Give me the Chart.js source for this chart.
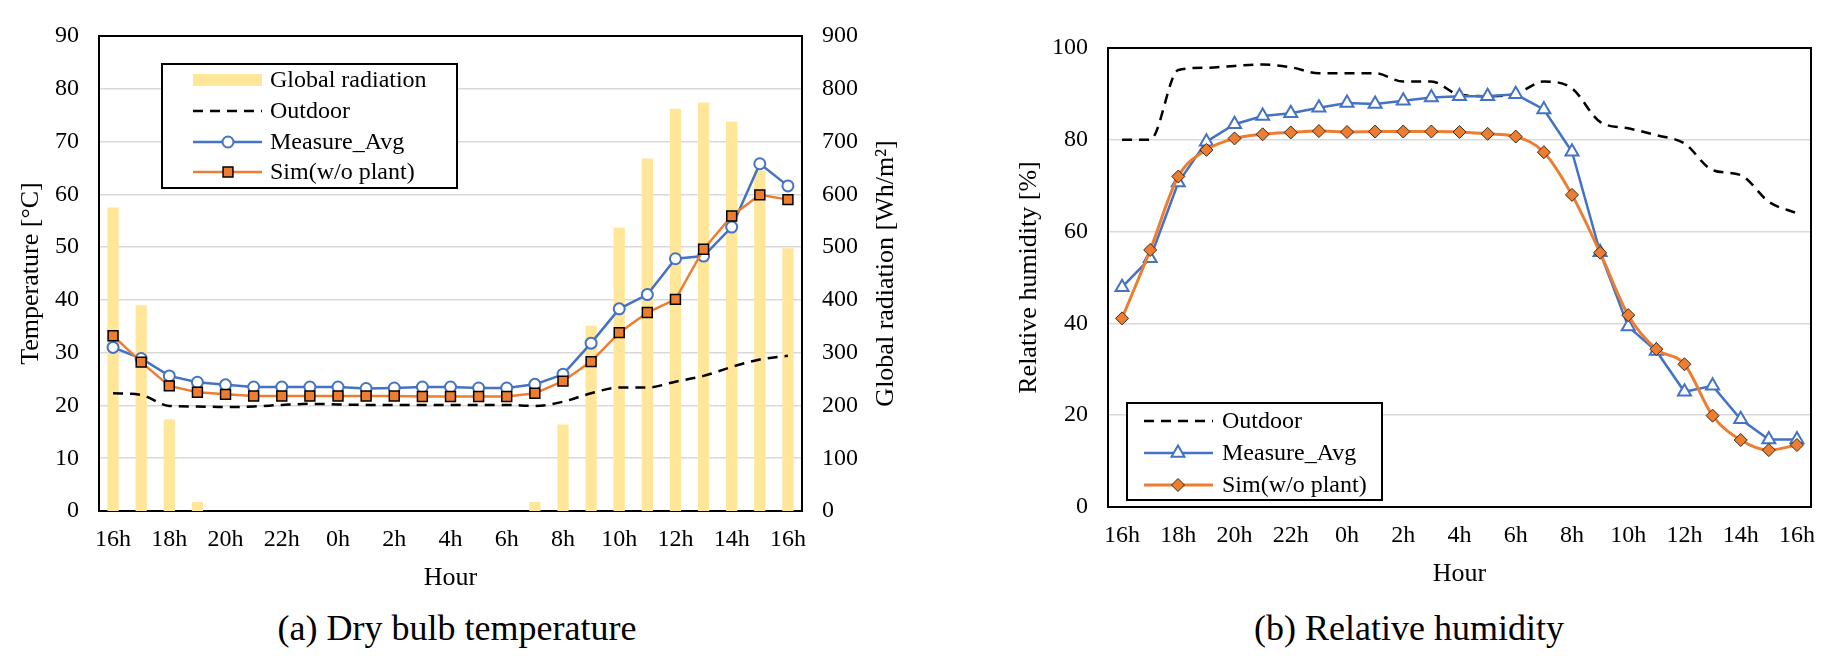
<!DOCTYPE html>
<html>
<head>
<meta charset="utf-8">
<script src="https://cdn.jsdelivr.net/npm/chart.js@4"></script>
<style>
  html, body { margin: 0; padding: 0; background: #fff; }
  body { width: 1845px; height: 660px; position: relative; overflow: hidden; font-family: 'Liberation Serif', 'Times New Roman', serif; }
  canvas { position: absolute; top: 0; }
  #cA { left: 0; }
  #cB { left: 930px; }
  .sub { position: absolute; top: 604px; font-size: 36px; line-height: 48px; color: #000; transform: translateX(-50%); white-space: nowrap; }
</style>
</head>
<body>
<canvas id="cA" width="930" height="600"></canvas>
<canvas id="cB" width="915" height="600"></canvas>
<div class="sub" style="left:457px">(a) Dry bulb temperature</div>
<div class="sub" style="left:1409px">(b) Relative humidity</div>
<script>
// ---------- data ----------
const hours = ['16h','17h','18h','19h','20h','21h','22h','23h','0h','1h','2h','3h','4h','5h','6h','7h','8h','9h','10h','11h','12h','13h','14h','15h','16h'];

const radiation = [575, 390, 174, 17, 0, 0, 0, 0, 0, 0, 0, 0, 0, 0, 0, 17, 164, 351, 537, 668, 762, 774, 738, 645, 498];

const tempOutdoor = [22.3, 22.0, 19.9, 19.8, 19.7, 19.8, 20.1, 20.3, 20.2, 20.1, 20.1, 20.1, 20.1, 20.1, 20.1, 19.9, 20.7, 22.3, 23.4, 23.4, 24.5, 25.6, 27.3, 28.7, 29.4];
const tempMeasure = [31.0, 28.9, 25.6, 24.4, 23.9, 23.5, 23.5, 23.5, 23.5, 23.2, 23.3, 23.5, 23.5, 23.3, 23.3, 24.0, 25.9, 31.8, 38.3, 41.0, 47.8, 48.3, 53.8, 65.8, 61.6];
const tempSim     = [33.2, 28.2, 23.7, 22.5, 22.1, 21.8, 21.8, 21.8, 21.8, 21.8, 21.8, 21.7, 21.7, 21.7, 21.7, 22.3, 24.6, 28.3, 33.8, 37.6, 40.1, 49.6, 55.9, 59.9, 59.0];

const rhOutdoor = [80.0, 80.0, 95.2, 95.7, 96.1, 96.4, 95.8, 94.5, 94.5, 94.5, 92.7, 92.7, 89.8, 89.5, 90.0, 92.7, 91.2, 83.9, 82.5, 81.0, 79.2, 73.4, 72.3, 66.5, 64.0];
const rhMeasure = [47.9, 54.2, 70.7, 79.6, 83.4, 85.2, 85.8, 87.0, 88.0, 87.8, 88.5, 89.2, 89.5, 89.5, 89.9, 86.6, 77.4, 55.5, 39.3, 34.0, 25.1, 26.4, 19.1, 14.7, 14.7];
const rhSim     = [41.1, 56.0, 72.0, 77.8, 80.3, 81.2, 81.6, 81.9, 81.7, 81.8, 81.8, 81.8, 81.7, 81.3, 80.7, 77.3, 68.0, 55.4, 41.8, 34.4, 31.1, 19.9, 14.6, 12.4, 13.5];

const tempTicks = { min: 0, max: 90, step: 10 };
const radTicks  = { min: 0, max: 900, step: 100 };
const rhTicks   = { min: 0, max: 100, step: 20 };

// ---------- styling ----------
const FONT = "'Liberation Serif', 'Times New Roman', serif";
Chart.defaults.font.family = FONT;
Chart.defaults.color = '#000';
Chart.defaults.animation = false;

const BLUE = '#4472C4', ORANGE = '#ED7D31', YELLOW = '#FFE699', GRID = '#D9D9D9';

function drawMarker(ctx, style, x, y, r, fill, stroke, lw) {
  ctx.save();
  ctx.beginPath();
  if (style === 'circle') {
    ctx.arc(x, y, r, 0, Math.PI * 2);
  } else if (style === 'rect') {
    const s = r * Math.SQRT1_2;
    ctx.rect(x - s, y - s, 2 * s, 2 * s);
  } else if (style === 'triangle') {
    for (let k = 0; k < 3; k++) {
      const a = -Math.PI / 2 + k * 2 * Math.PI / 3;
      const px = x + Math.cos(a) * r, py = y + Math.sin(a) * r;
      if (k === 0) ctx.moveTo(px, py); else ctx.lineTo(px, py);
    }
    ctx.closePath();
  } else if (style === 'rectRot') {
    ctx.moveTo(x, y - r); ctx.lineTo(x + r, y); ctx.lineTo(x, y + r); ctx.lineTo(x - r, y); ctx.closePath();
  }
  ctx.fillStyle = fill; ctx.fill();
  ctx.lineWidth = lw; ctx.strokeStyle = stroke; ctx.stroke();
  ctx.restore();
}

const frameLegendPlugin = {
  id: 'frameLegend',
  beforeDatasetsDraw(chart, args, opts) {
    const a = chart.chartArea, ctx = chart.ctx;
    ctx.save();
    ctx.strokeStyle = '#000';
    ctx.lineWidth = 2;
    ctx.strokeRect(a.left, a.top, a.right - a.left, a.bottom - a.top);
    ctx.restore();
  },
  afterDatasetsDraw(chart, args, opts) {
    const ctx = chart.ctx;
    const L = opts.legend;
    if (L) {
      ctx.save();
      ctx.fillStyle = '#fff';
      ctx.fillRect(L.x, L.y, L.w, L.h);
      ctx.strokeStyle = '#000'; ctx.lineWidth = 2;
      ctx.strokeRect(L.x, L.y, L.w, L.h);
      L.items.forEach((it, i) => {
        const ds = chart.data.datasets[it.ds];
        const y = L.rowY[i];
        if (ds.type === 'bar' || (!ds.type && chart.config.type === 'bar')) {
          ctx.fillStyle = ds.backgroundColor;
          ctx.fillRect(L.sx0, y - 6, L.sx1 - L.sx0, 12);
        } else {
          ctx.save();
          ctx.strokeStyle = ds.borderColor;
          ctx.lineWidth = ds.borderWidth;
          ctx.setLineDash(ds.borderDash || []);
          ctx.beginPath(); ctx.moveTo(L.sx0, y); ctx.lineTo(L.sx1, y); ctx.stroke();
          ctx.restore();
          if (ds.pointRadius > 0) {
            drawMarker(ctx, ds.pointStyle, L.mx, y, ds.pointRadius, ds.pointBackgroundColor, ds.pointBorderColor, ds.pointBorderWidth);
          }
        }
        ctx.fillStyle = '#000';
        ctx.font = '24px ' + FONT;
        ctx.textAlign = 'left';
        ctx.textBaseline = 'middle';
        ctx.fillText(ds.label, L.tx, y + 1);
      });
      ctx.restore();
    }
    if (opts.rightTitle) {
      const a = chart.chartArea;
      ctx.save();
      ctx.translate(opts.rightTitle.x, (a.top + a.bottom) / 2);
      ctx.rotate(-Math.PI / 2);
      ctx.font = '26px ' + FONT;
      ctx.fillStyle = '#000';
      ctx.textAlign = 'center';
      ctx.textBaseline = 'middle';
      ctx.fillText(opts.rightTitle.text, 0, 0);
      ctx.restore();
    }
  }
};

function xAxis(h, titlePadBottom) {
  return {
    type: 'category',
    labels: hours,
    offset: true,
    grid: { display: false, drawTicks: false },
    border: { display: false },
    ticks: {
      autoSkip: false, maxRotation: 0, minRotation: 0, padding: 14,
      font: { size: 24 }, color: '#000',
      callback: function (v, i) { return i % 2 === 0 ? hours[i] : ''; }
    },
    title: { display: true, text: 'Hour', font: { size: 26 }, color: '#000', padding: { top: 0, bottom: titlePadBottom } },
    afterFit: s => { s.height = h; }
  };
}

function yAxis(pos, t, w, gridOn, title, titlePadTop) {
  return {
    position: pos,
    min: t.min, max: t.max,
    grid: { display: gridOn, color: GRID, lineWidth: 1.5, drawTicks: false },
    border: { display: false },
    ticks: { stepSize: t.step, padding: 20, font: { size: 24 }, color: '#000' },
    title: title ? { display: true, text: title, font: { size: 26 }, color: '#000', padding: { top: titlePadTop, bottom: 0 } } : { display: false },
    afterFit: s => { s.width = w; }
  };
}

// ---------- chart (a) ----------
new Chart(document.getElementById('cA'), {
  type: 'bar',
  data: {
    labels: hours,
    datasets: [
      { type: 'bar', label: 'Global radiation', data: radiation, yAxisID: 'y1', backgroundColor: YELLOW, borderWidth: 0,
        categoryPercentage: 1, barPercentage: 0.4, order: 10 },
      { type: 'line', label: 'Outdoor', data: tempOutdoor, yAxisID: 'y', borderColor: '#000', borderWidth: 2.5, borderDash: [10, 7],
        pointRadius: 0, cubicInterpolationMode: 'monotone', fill: false, order: 3 },
      { type: 'line', label: 'Measure_Avg', data: tempMeasure, yAxisID: 'y', borderColor: BLUE, borderWidth: 2.5,
        pointStyle: 'circle', pointRadius: 5.5, pointBackgroundColor: '#fff', pointBorderColor: BLUE, pointBorderWidth: 2,
        tension: 0, fill: false, order: 2 },
      { type: 'line', label: 'Sim(w/o plant)', data: tempSim, yAxisID: 'y', borderColor: ORANGE, borderWidth: 2.5,
        pointStyle: 'rect', pointRadius: 7, pointBackgroundColor: ORANGE, pointBorderColor: '#000', pointBorderWidth: 1.5,
        tension: 0, fill: false, order: 1 }
    ]
  },
  options: {
    responsive: false,
    devicePixelRatio: 1,
    layout: { padding: { top: 36, left: 0, right: 0, bottom: 0 } },
    plugins: {
      legend: { display: false }, tooltip: { enabled: false },
      frameLegend: {
        legend: { x: 162, y: 64, w: 295, h: 124, rowY: [80, 111, 142, 172], sx0: 193, sx1: 262, mx: 228, tx: 270,
                  items: [{ ds: 0 }, { ds: 1 }, { ds: 2 }, { ds: 3 }] },
        rightTitle: { x: 886, text: 'Global radiation [Wh/m²]' }
      }
    },
    scales: {
      x: xAxis(89, 6),
      y: yAxis('left', tempTicks, 99, true, 'Temperature [°C]', 16),
      y1: yAxis('right', radTicks, 128, false, null, 0)
    }
  },
  plugins: [frameLegendPlugin]
});

// ---------- chart (b) ----------
new Chart(document.getElementById('cB'), {
  type: 'line',
  data: {
    labels: hours,
    datasets: [
      { label: 'Outdoor', data: rhOutdoor, borderColor: '#000', borderWidth: 2.5, borderDash: [10, 7],
        pointRadius: 0, cubicInterpolationMode: 'monotone', fill: false, order: 3 },
      { label: 'Measure_Avg', data: rhMeasure, borderColor: BLUE, borderWidth: 2.5,
        pointStyle: 'triangle', pointRadius: 7.5, pointBackgroundColor: '#fff', pointBorderColor: BLUE, pointBorderWidth: 2,
        tension: 0, fill: false, order: 2 },
      { label: 'Sim(w/o plant)', data: rhSim, borderColor: ORANGE, borderWidth: 3,
        pointStyle: 'rectRot', pointRadius: 6.5, pointBackgroundColor: ORANGE, pointBorderColor: '#3a2a1a', pointBorderWidth: 1,
        cubicInterpolationMode: 'monotone', fill: false, order: 1 }
    ]
  },
  options: {
    responsive: false,
    devicePixelRatio: 1,
    layout: { padding: { top: 48, left: 0, right: 34, bottom: 0 } },
    plugins: {
      legend: { display: false }, tooltip: { enabled: false },
      frameLegend: {
        legend: { x: 197, y: 403, w: 255, h: 97, rowY: [421, 453, 485], sx0: 214, sx1: 283, mx: 248, tx: 292,
                  items: [{ ds: 0 }, { ds: 1 }, { ds: 2 }] }
      }
    },
    scales: {
      x: xAxis(93, 10),
      y: yAxis('left', rhTicks, 178, true, 'Relative humidity [%]', 84)
    }
  },
  plugins: [frameLegendPlugin]
});
</script>
</body>
</html>
